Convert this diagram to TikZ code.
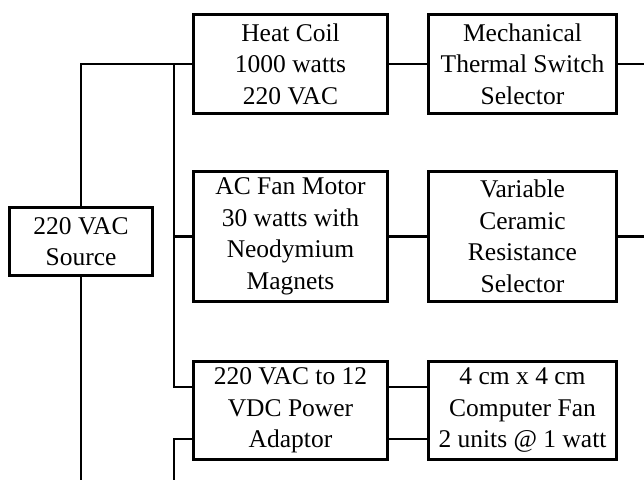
\documentclass[tikz,border=0pt]{standalone}
\usepackage{fontspec}
\setmainfont{Liberation Serif}
\begin{document}
\begin{tikzpicture}[x=1pt,y=-1pt,
  box/.style={draw, line width=2.8pt, align=center, inner sep=0pt, font=\fontsize{25.5}{31.5}\selectfont},
  wide/.style={minimum width=194pt},
  narrow/.style={minimum width=188pt},
  wire/.style={line width=2.8pt}]
\useasboundingbox (0,0) rectangle (644,480);
\node[box, wide, minimum height=99pt] (heat) at (290.5,64) {Heat Coil\\1000 watts\\220 VAC};
\node[box, narrow, minimum height=99pt] (mech) at (522.5,64) {Mechanical\\Thermal Switch\\Selector};
\node[box, wide, minimum height=130pt] (fan) at (290.5,236.5) {AC Fan Motor\\30 watts with\\Neodymium\\Magnets};
\node[box, narrow, minimum height=130pt] (var) at (522.5,236.5) {Variable\\Ceramic\\Resistance\\Selector};
\node[box, wide, minimum height=98pt] (adapt) at (290.5,410.5) {220 VAC to 12\\VDC Power\\Adaptor};
\node[box, narrow, minimum height=98pt] (comp) at (522.5,410.5) {4 cm x 4 cm\\Computer Fan\\2 units @ 1 watt};
\node[box, minimum width=143pt, minimum height=68pt] (src) at (81,241.5) {220 VAC\\Source};
% free ends and junctions
\coordinate (busT) at (174,64);
\coordinate (busB) at (174,387);
\coordinate (aIn1) at (192,387);
\coordinate (aIn2) at (192,439);
\coordinate (bus2) at (174,439);
\coordinate (bus2E) at (174,480);
\coordinate (srcE) at (81,480);
\coordinate (aOut1) at (389,387);
\coordinate (aOut2) at (389,439);
\coordinate (cIn1) at (427,387);
\coordinate (cIn2) at (427,439);
\coordinate (r1) at (644,64);
\coordinate (r2) at (644,236.5);
\draw[wire] (src.north) -- (src.north |- heat.west) -- (heat.west);
\draw[wire] (busT) -- (busB) -- (aIn1);
\draw[wire] (busT |- fan.west) -- (fan.west);
\draw[wire] (src.south) -- (srcE);
\draw[wire] (aIn2) -- (bus2) -- (bus2E);
\draw[wire] (heat.east) -- (mech.west);
\draw[wire] (mech.east) -- (r1);
\draw[wire] (fan.east) -- (var.west);
\draw[wire] (var.east) -- (r2);
\draw[wire] (aOut1) -- (cIn1);
\draw[wire] (aOut2) -- (cIn2);
\end{tikzpicture}
\end{document}
